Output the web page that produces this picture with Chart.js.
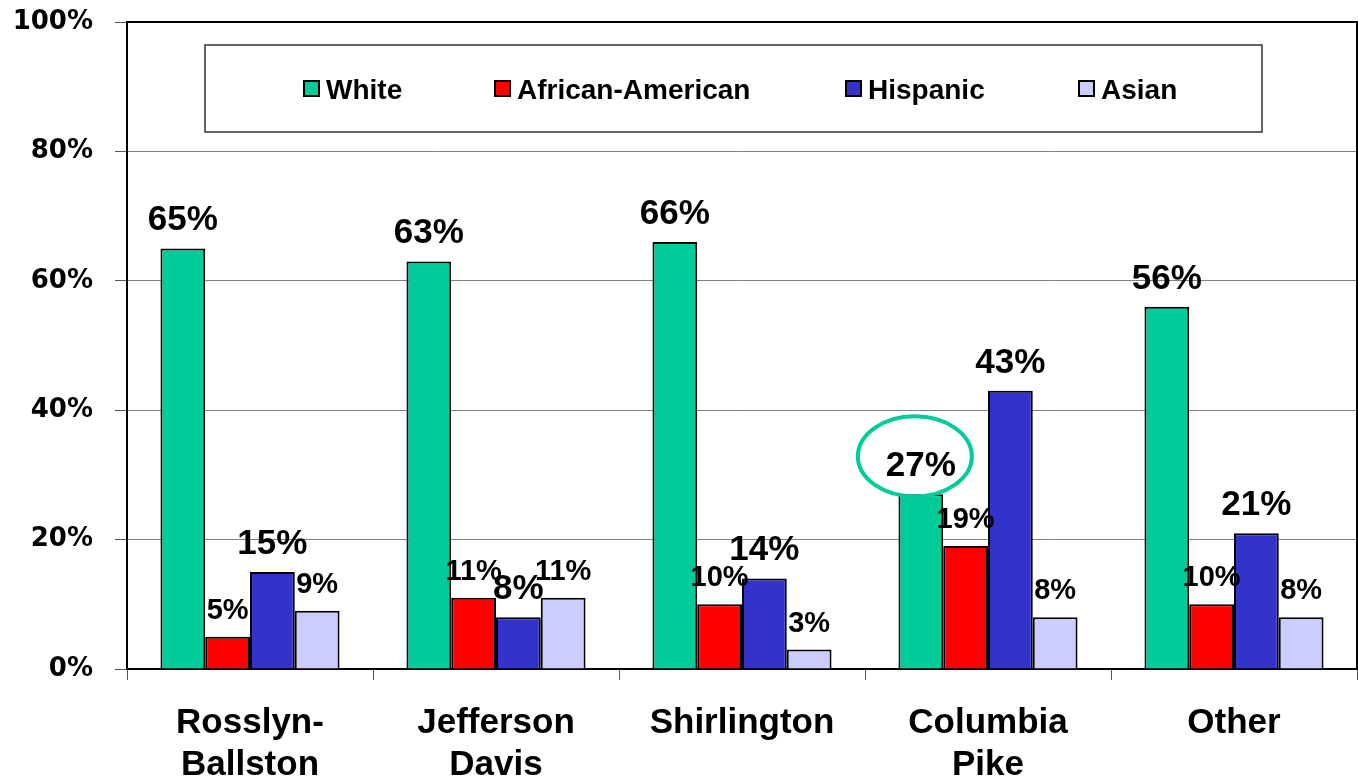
<!DOCTYPE html>
<html>
<head>
<meta charset="utf-8">
<script src="https://cdn.jsdelivr.net/npm/chart.js@4/dist/chart.umd.min.js"></script>
<style>
  html, body { margin: 0; padding: 0; background: #fff; }
</style>
</head>
<body>
<canvas id="myChart" width="1358" height="779"></canvas>
<script>
// chart values
const areas = [['Rosslyn-', 'Ballston'], ['Jefferson', 'Davis'], 'Shirlington', ['Columbia', 'Pike'], 'Other']
const white = [65, 63, 66, 27, 56]
const african = [5, 11, 10, 19, 10]
const hispanic = [15, 8, 14, 43, 21]
const asian = [9, 11, 3, 8, 8]
const yTicks = [0, 20, 40, 60, 80, 100]
const circled = { dataset: 0, index: 3 }   // Columbia Pike, White

const ARIAL = '"Liberation Sans", Arial, sans-serif'

// numbers over the bars (White and Hispanic are printed bigger)
const valueLabels = {
  id: 'valueLabels',
  afterDatasetsDraw(chart) {
    const ctx = chart.ctx
    const sizes = [35, 29, 35, 29]
    ctx.save()
    ctx.fillStyle = '#000'
    ctx.textAlign = 'center'
    ctx.textBaseline = 'alphabetic'
    chart.data.datasets.forEach((ds, i) => {
      ctx.font = 'bold ' + sizes[i] + 'px ' + ARIAL
      chart.getDatasetMeta(i).data.forEach((bar, j) => {
        ctx.fillText(ds.data[j] + '%', bar.x, bar.y - 18)
      })
    })
    // ring round the highlighted value
    const b = chart.getDatasetMeta(circled.dataset).data[circled.index]
    ctx.strokeStyle = '#00CC99'
    ctx.lineWidth = 4
    ctx.beginPath()
    ctx.ellipse(b.x - 6, b.y - 38, 57, 40, 0, 0, Math.PI * 2)
    ctx.stroke()
    ctx.restore()
  }
}

// frame + legend box inside the plot
const frameAndLegend = {
  id: 'frameAndLegend',
  afterDraw(chart) {
    const ctx = chart.ctx
    const a = chart.chartArea
    ctx.save()
    ctx.strokeStyle = '#000'
    ctx.lineWidth = 2
    ctx.beginPath()
    ctx.moveTo(a.left, a.top)
    ctx.lineTo(a.right, a.top)
    ctx.lineTo(a.right, a.bottom)
    ctx.stroke()

    ctx.fillStyle = '#fff'
    ctx.fillRect(205, 45, 1057, 87)
    ctx.strokeStyle = '#333'
    ctx.lineWidth = 1.5
    ctx.strokeRect(205, 45, 1057, 87)

    const xs = [304, 495, 846, 1079]
    ctx.font = 'bold 28px ' + ARIAL
    ctx.textBaseline = 'alphabetic'
    ctx.textAlign = 'left'
    chart.data.datasets.forEach((ds, i) => {
      ctx.fillStyle = ds.backgroundColor
      ctx.fillRect(xs[i], 81, 15, 15)
      ctx.strokeStyle = '#000'
      ctx.lineWidth = 2
      ctx.strokeRect(xs[i], 81, 15, 15)
      ctx.fillStyle = '#000'
      ctx.fillText(ds.label, xs[i] + 22, 99)
    })
    ctx.restore()
  }
}

const barStyle = { borderColor: '#000', borderWidth: 2, categoryPercentage: 0.728, barPercentage: 1 }

new Chart(document.getElementById('myChart'), {
  type: 'bar',
  data: {
    labels: areas,
    datasets: [
      { label: 'White', data: white, backgroundColor: '#00CC99', ...barStyle },
      { label: 'African-American', data: african, backgroundColor: '#FF0000', ...barStyle },
      { label: 'Hispanic', data: hispanic, backgroundColor: '#3333CC', ...barStyle },
      { label: 'Asian', data: asian, backgroundColor: '#CCCCFF', ...barStyle }
    ]
  },
  options: {
    responsive: false,
    animation: false,
    layout: { padding: { top: 0, right: 1, left: 0, bottom: 0 } },
    plugins: {
      legend: { display: false },
      tooltip: { enabled: false }
    },
    scales: {
      x: {
        afterFit(s) { s.height = 110 },
        ticks: {
          color: '#000',
          font: { family: ARIAL, weight: 'bold', size: 35, lineHeight: 1.18 },
          padding: 23,
          maxRotation: 0,
          autoSkip: false
        },
        grid: { offset: true, drawOnChartArea: false, tickLength: 11, tickColor: '#555' },
        border: { color: '#000', width: 2 }
      },
      y: {
        min: 0,
        max: 100,
        afterFit(s) { s.width = 127; s.paddingTop = 22 },
        afterBuildTicks(s) { s.ticks = yTicks.map(v => ({ value: v })) },
        ticks: {
          color: '#000',
          font: { family: '"DejaVu Sans", sans-serif', weight: 'bold', size: 26 },
          padding: 22,
          callback: v => v + '%'
        },
        grid: { color: '#808080', lineWidth: 1, tickLength: 12, tickColor: '#555' },
        border: { color: '#000', width: 2 }
      }
    }
  },
  plugins: [valueLabels, frameAndLegend]
})
</script>
</body>
</html>
